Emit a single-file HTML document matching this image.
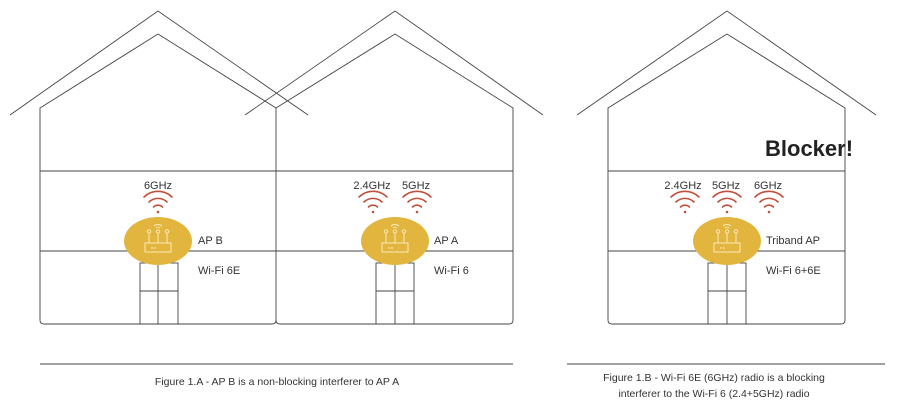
<!DOCTYPE html>
<html><head><meta charset="utf-8"><style>
body{margin:0;background:#fff}
svg{display:block}
text{font-family:"Liberation Sans",sans-serif;fill:#333}
</style></head><body>
<svg width="900" height="414" viewBox="0 0 900 414" xmlns="http://www.w3.org/2000/svg">
<defs>
<g id="wifi" fill="none" stroke="#c0503a" stroke-width="1.6" stroke-linecap="round">
<path d="M-14,-8 A20,20 0 0 1 14,-8"/>
<path d="M-9,-3 A13,13 0 0 1 9,-3"/>
<path d="M-4.5,2 A6.5,6.5 0 0 1 4.5,2"/>
<circle cx="0" cy="7" r="1.3" fill="#c0503a" stroke="none"/>
</g>
<g id="ap">
<ellipse cx="0" cy="0" rx="34" ry="24" fill="#e1b53e"/>
<g fill="none" stroke="#fbe9b8" stroke-width="1">
<rect x="-13" y="2" width="26" height="9"/>
<line x1="-9" y1="2" x2="-9" y2="-8"/><line x1="0" y1="2" x2="0" y2="-8"/><line x1="9" y1="2" x2="9" y2="-8"/>
<circle cx="-9" cy="-9.5" r="1.7"/><circle cx="0" cy="-9.5" r="1.7"/><circle cx="9" cy="-9.5" r="1.7"/>
<path d="M-4,-15 A6,6 0 0 1 4,-15"/><path d="M-2,-13 A3,3 0 0 1 2,-13"/>
</g>
<circle cx="-6" cy="7" r="0.9" fill="#fbe9b8"/><circle cx="-3" cy="7" r="0.9" fill="#fbe9b8"/>
</g>
</defs>
<g fill="none" stroke="#444" stroke-width="0.9">
<!-- house 1 -->
<polyline points="10,115 158,11 308,115"/>
<path d="M40,320 V108 L158,34 L276,108 V320 Q276,324 272,324 H44 Q40,324 40,320"/>
<!-- house 2 -->
<polyline points="245,115 395,11 543,115"/>
<path d="M276,108 L395,34 L513,108 V320 Q513,324 509,324 H280 Q276,324 276,320"/>
<line x1="40" y1="171" x2="513" y2="171"/>
<line x1="40" y1="251" x2="513" y2="251"/>
<!-- house 3 -->
<polyline points="577,115 727,11 876,115"/>
<path d="M608,320 V108 L727,34 L845,108 V320 Q845,324 841,324 H612 Q608,324 608,320"/>
<line x1="608" y1="171" x2="845" y2="171"/>
<line x1="608" y1="251" x2="845" y2="251"/>
<!-- doors -->
<rect x="140" y="263" width="38" height="61"/><line x1="158" y1="263" x2="158" y2="324"/><line x1="140" y1="291" x2="178" y2="291"/>
<rect x="376" y="263" width="38" height="61"/><line x1="395" y1="263" x2="395" y2="324"/><line x1="376" y1="291" x2="414" y2="291"/>
<rect x="708" y="263" width="38" height="61"/><line x1="727" y1="263" x2="727" y2="324"/><line x1="708" y1="291" x2="746" y2="291"/>
<!-- caption lines -->
<line x1="40" y1="364" x2="513" y2="364"/>
<line x1="567" y1="364" x2="885" y2="364"/>
</g>
<use href="#ap" x="158" y="241"/>
<use href="#ap" x="395" y="241"/>
<use href="#ap" x="727" y="241"/>
<use href="#wifi" x="158" y="205"/>
<use href="#wifi" x="373" y="205"/>
<use href="#wifi" x="417" y="205"/>
<use href="#wifi" x="685" y="205"/>
<use href="#wifi" x="727" y="205"/>
<use href="#wifi" x="769" y="205"/>
<g font-size="11">
<text x="158" y="189" text-anchor="middle">6GHz</text>
<text x="372" y="189" text-anchor="middle">2.4GHz</text>
<text x="416" y="189" text-anchor="middle">5GHz</text>
<text x="683" y="189" text-anchor="middle">2.4GHz</text>
<text x="726" y="189" text-anchor="middle">5GHz</text>
<text x="768" y="189" text-anchor="middle">6GHz</text>
<text x="198" y="244">AP B</text>
<text x="198" y="274">Wi-Fi 6E</text>
<text x="434" y="244">AP A</text>
<text x="434" y="274">Wi-Fi 6</text>
<text x="766" y="244">Triband AP</text>
<text x="766" y="274">Wi-Fi 6+6E</text>
<text x="277" y="385" text-anchor="middle" font-size="10.5">Figure 1.A - AP B is a non-blocking interferer to AP A</text>
<text x="714" y="381" text-anchor="middle" font-size="10.5">Figure 1.B - Wi-Fi 6E (6GHz) radio is a blocking</text>
<text x="714" y="397" text-anchor="middle" font-size="10.5">interferer to the Wi-Fi 6 (2.4+5GHz) radio</text>
</g>
<text x="765" y="156" font-size="22" font-weight="bold" style="fill:#222">Blocker!</text>
</svg>
</body></html>
